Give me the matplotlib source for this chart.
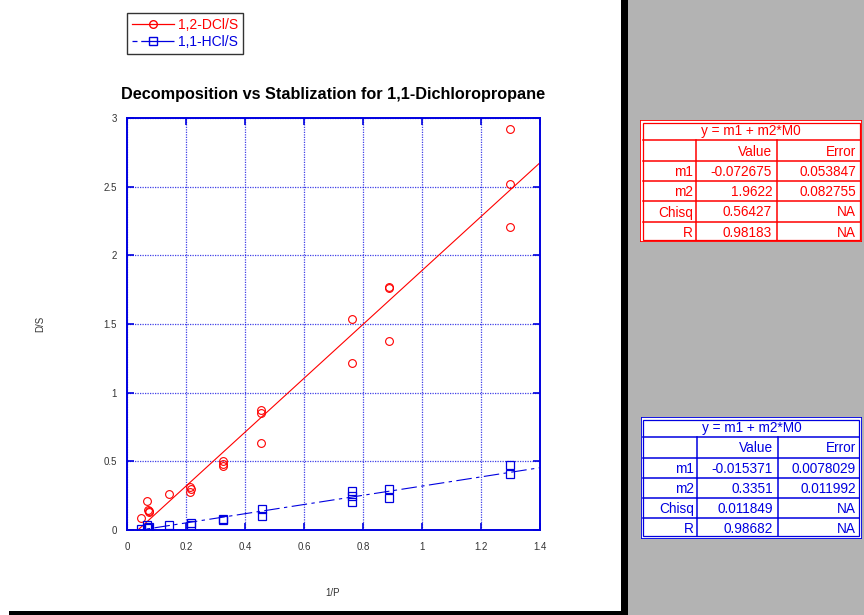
import numpy as np
import matplotlib
matplotlib.use("Agg")
import matplotlib.pyplot as plt
from matplotlib.lines import Line2D
from matplotlib.patches import Rectangle

plt.rcParams["font.family"] = ["Liberation Sans", "DejaVu Sans"]

# data
dcl_x = [0.049, 0.068, 0.07, 0.076, 0.074, 0.143, 0.214, 0.214, 0.217,
         0.327, 0.327, 0.325, 0.454, 0.454, 0.454, 0.763, 0.763,
         0.888, 0.888, 0.888, 1.3, 1.3, 1.3]
dcl_y = [0.085, 0.21, 0.148, 0.14, 0.13, 0.26, 0.315, 0.274, 0.295,
         0.50, 0.466, 0.48, 0.874, 0.852, 0.636, 1.537, 1.216,
         1.77, 1.765, 1.376, 2.92, 2.52, 2.207]
hcl_x = [0.047, 0.067, 0.076, 0.07, 0.143, 0.216, 0.216, 0.327, 0.327,
         0.457, 0.457, 0.763, 0.763, 0.763, 0.888, 0.888, 1.3, 1.3]
hcl_y = [0.007, 0.036, 0.022, 0.015, 0.04, 0.049, 0.036, 0.08, 0.075,
         0.15, 0.104, 0.284, 0.248, 0.204, 0.30, 0.233, 0.473, 0.408]

fit_labels = ["m1", "m2", "Chisq", "R"]
dcl_fit_values = ["-0.072675", "1.9622", "0.56427", "0.98183"]
dcl_fit_errors = ["0.053847", "0.082755", "NA", "NA"]
hcl_fit_values = ["-0.015371", "0.3351", "0.011849", "0.98682"]
hcl_fit_errors = ["0.0078029", "0.011992", "NA", "NA"]
dcl_m1, dcl_m2 = -0.072675, 1.9622
hcl_m1, hcl_m2 = -0.015371, 0.3351

RED = "#ff0000"
BLUE = "#0000e0"
W, H = 864, 615

fig = plt.figure(figsize=(8.64, 6.15), dpi=100)

# background panels
bg = fig.add_axes([0, 0, 1, 1], zorder=-10)
bg.set_xlim(0, W)
bg.set_ylim(H, 0)
bg.axis("off")
bg.add_patch(Rectangle((628.3, 0), W - 628.3, H, facecolor="#b3b3b3", edgecolor="none"))
bg.add_patch(Rectangle((620.7, 0), 7.6, H, facecolor="black", edgecolor="none"))
bg.add_patch(Rectangle((9, 611), 612, 4, facecolor="black", edgecolor="none"))

ax = fig.add_axes([127 / W, 85 / H, 413 / W, 412 / H])
ax.set_xlim(0, 1.4)
ax.set_ylim(0, 3)

ax.plot(dcl_x, dcl_y, "o", mfc="none", mec=RED, ms=5.6, mew=0.8, zorder=3)
ax.plot(hcl_x, hcl_y, "s", mfc="none", mec=BLUE, ms=5.6, mew=0.9, zorder=3)

xf = np.linspace(0, 1.4, 50)
ax.plot(xf, dcl_m1 + dcl_m2 * xf, color=RED, lw=0.8)
ax.plot(xf, hcl_m1 + hcl_m2 * xf, color=BLUE, lw=0.8, dashes=(14, 4, 3, 4))

ax.set_xticks(np.arange(0, 1.41, 0.2))
ax.set_xticklabels(["0", "0.2", "0.4", "0.6", "0.8", "1", "1.2", "1.4"])
ax.set_yticks([0, 0.5, 1, 1.5, 2, 2.5, 3])
ax.set_yticklabels(["0", "0.5", "1", "1.5", "2", "2.5", "3"])
ax.grid(True, color=BLUE, linestyle=(0, (1, 1)), lw=0.9, alpha=0.75)
for s in ax.spines.values():
    s.set_color(BLUE)
    s.set_linewidth(1.4)
ax.tick_params(direction="in", length=5, width=1.2, color=BLUE, labelsize=7,
               labelcolor="#333333", top=True, right=True)
ax.tick_params(axis="x", pad=8.5)
ax.tick_params(axis="y", pad=7.4)

ax.set_title("Decomposition vs Stablization for 1,1-Dichloropropane",
             fontsize=11.7, fontweight="bold", pad=14)
fig.text(333 / W, 1 - 593 / H, "1/P", fontsize=7, color="#333333", ha="center", va="center")
fig.text(40 / W, 1 - 324 / H, "D/S", fontsize=7, color="#333333", ha="center", va="center",
         rotation=90)

handles = [Line2D([], [], color=RED, lw=0.9, marker="o", mfc="none", mec=RED, ms=5.5),
           Line2D([], [], color=BLUE, lw=0.9, marker="s", mfc="none", mec=BLUE, ms=5.5,
                  dashes=(4, 3, 30, 1))]
leg = fig.legend(handles, ["1,2-DCl/S", "1,1-HCl/S"], loc="upper left",
                 bbox_to_anchor=(127 / W, 1 - 13 / H), frameon=True, fancybox=False,
                 edgecolor="black", fontsize=10, handlelength=3.0, borderpad=0.35,
                 labelspacing=0.2, handletextpad=0.35, borderaxespad=0)
leg.get_frame().set_linewidth(1.0)
for t, c in zip(leg.get_texts(), [RED, BLUE]):
    t.set_color(c)


def draw_table(x0, y0, x1, y1, cols, color, values, errors):
    # x0,y0 top-left ; x1,y1 bottom-right in pixels
    tax = fig.add_axes([x0 / W, 1 - y1 / H, (x1 - x0) / W, (y1 - y0) / H])
    tax.set_xlim(x0, x1)
    tax.set_ylim(y1, y0)
    tax.axis("off")
    tax.add_patch(Rectangle((x0, y0), x1 - x0, y1 - y0, facecolor="white",
                            edgecolor=color, lw=1.3))
    tax.add_patch(Rectangle((x0 + 2.5, y0 + 2.5), x1 - x0 - 5, y1 - y0 - 5,
                            facecolor="none", edgecolor=color, lw=0.9))
    rh = (y1 - y0) / 6
    rows = [y0 + rh * i for i in range(7)]
    for r in rows[1:-1]:
        tax.plot([x0 + 2.5, x1 - 2.5], [r, r], color=color, lw=1.1)
    for c in cols:
        tax.plot([c, c], [rows[1], y1 - 2.5], color=color, lw=1.1)
    fs = 9.8
    tax.text((x0 + x1) / 2, (rows[0] + rows[1]) / 2 + 1, "y = m1 + m2*M0",
             color=color, fontsize=fs, ha="center", va="center")
    tax.text(cols[1] - 5, (rows[1] + rows[2]) / 2 + 1, "Value", color=color,
             fontsize=fs, ha="right", va="center")
    tax.text(x1 - 6, (rows[1] + rows[2]) / 2 + 1, "Error", color=color,
             fontsize=fs, ha="right", va="center")
    for i, (lab, v, e) in enumerate(zip(fit_labels, values, errors)):
        yc = (rows[i + 2] + rows[i + 3]) / 2 + 1
        tax.text(cols[0] - 3, yc, lab, color=color, fontsize=fs, ha="right", va="center")
        tax.text(cols[1] - 5, yc, v, color=color, fontsize=fs, ha="right", va="center")
        tax.text(x1 - 6, yc, e, color=color, fontsize=fs, ha="right", va="center")


draw_table(640, 120, 862, 242, [696, 777], RED, dcl_fit_values, dcl_fit_errors)
draw_table(641, 417, 862, 538.5, [697, 778], BLUE, hcl_fit_values, hcl_fit_errors)

fig.savefig("out.png", dpi=100)
